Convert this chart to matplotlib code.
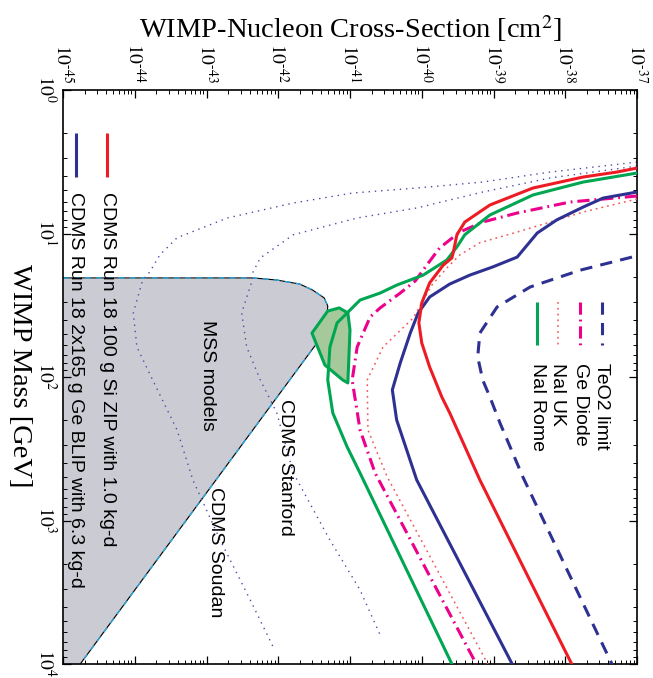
import numpy as np
import matplotlib.pyplot as plt
from matplotlib.transforms import ScaledTranslation

plt.rcParams['mathtext.fontset'] = 'stix'

# ==========================================
#  Data: WIMP mass [GeV], log10 sigma [cm^2]
# ==========================================
mass_zip = [3.50, 3.73, 4.04, 4.82, 6.33, 8.32, 10.2, 13.5, 14.8, 16.6, 22.1, 30.5,
            42.0, 57.9, 85.2, 138, 178, 522, 2399, 10000]
lsig_zip = [-37.00, -37.28, -37.75, -38.45, -39.05, -39.40, -39.51, -39.56, -39.58, -39.70,
            -39.89, -40.00, -40.04, -40.00, -39.89, -39.72, -39.61, -39.19, -38.53, -37.91]

mass_blip = [5.14, 5.66, 6.54, 8.05, 9.92, 14.6, 17.1, 19.5, 22.5, 27.7, 35.8, 49.4,
             79.9, 123, 199, 522, 10000]
lsig_blip = [-37.00, -37.47, -37.75, -38.12, -38.39, -38.67, -39.01, -39.33, -39.61, -39.89,
             -40.05, -40.16, -40.30, -40.41, -40.35, -40.07, -38.74]

mass_rome = [3.79, 4.38, 5.39, 7.43, 10.2, 12.4, 15.3, 19.5, 22.9, 26.0, 29.1, 35.8,
             42.0, 61.8, 105, 178, 307, 467, 10000]
lsig_rome = [-37.00, -37.75, -38.45, -39.05, -39.40, -39.51, -39.65, -39.98, -40.35, -40.58,
             -40.86, -41.04, -41.18, -41.28, -41.31, -41.24, -41.04, -40.86, -39.58]

mass_ukna = [5.75, 7.08, 8.32, 9.77, 11.6, 14.1, 17.4, 22.9, 38.8, 61.8, 105, 234, 498, 10000]
lsig_ukna = [-37.00, -37.75, -38.21, -38.67, -39.19, -39.47, -39.65, -39.86, -40.12, -40.54,
             -40.76, -40.75, -40.48, -39.08]

mass_gedi = [5.48, 6.03, 7.20, 8.32, 9.77, 12.6, 16.6, 21.4, 26.0, 33.0, 38.2, 61.8,
             105, 234, 467, 10000]
lsig_gedi = [-37.00, -37.93, -38.67, -39.15, -39.47, -39.75, -39.93, -40.09, -40.30, -40.58,
             -40.72, -40.90, -40.97, -40.86, -40.65, -39.24]

mass_teo2 = [14.6, 18.0, 23.6, 32.5, 49.4, 72.6, 105, 138, 209, 498, 10000]
lsig_teo2 = [-37.07, -37.79, -38.49, -38.95, -39.19, -39.22, -39.15, -39.05, -38.91, -38.59, -37.35]

mass_soudan = [3.18, 3.73, 4.38, 4.82, 5.22, 6.13, 7.80, 10.7, 14.1, 18.5, 21.1, 35.8, 61.8,
               105, 234, 522, 1368, 3582, 7985]
lsig_soudan = [-37.00, -38.21, -39.15, -40.07, -40.96, -41.79, -42.71, -43.41, -43.65, -43.79,
               -43.89, -44.02, -43.97, -43.75, -43.41, -43.19, -42.81, -42.39, -42.05]

mass_stanford = [3.39, 4.10, 5.14, 6.64, 7.80, 10.2, 14.8, 18.5, 21.8, 35.8, 61.8, 105,
                 178, 467, 1368, 3048, 6281]
lsig_stanford = [-37.00, -38.21, -39.15, -40.07, -40.90, -41.79, -42.25, -42.35, -42.37, -42.51,
                 -42.44, -42.25, -42.02, -41.79, -41.28, -40.86, -40.58]

mass_mssm = [20.4, 20.4, 21.1, 22.5, 24.8, 28.1, 32.0, 37.0, 57.9, 10000]
lsig_mssm = [-45.0, -42.35, -42.02, -41.70, -41.52, -41.36, -41.31, -41.32, -41.46, -44.76]

mass_dama = [49.4, 34.7, 33.0, 35.8, 47.0, 110, 105, 82.5]
lsig_dama = [-41.53, -41.31, -41.15, -41.03, -41.00, -41.03, -41.10, -41.35]

xtick_exp = [-45, -44, -43, -42, -41, -40, -39, -38, -37]
ytick_exp = [0, 1, 2, 3, 4]

# colours
RED = '#ed1c24'
NAVY = '#2e3192'
GREEN = '#00a651'
MAGENTA = '#ec008c'
RED_DOT = '#f0595c'
NAVY_DOT = '#4a4da6'

SANS = 'Liberation Sans'
SERIF = 'Liberation Serif'


def sig(lst):
    return 10.0 ** np.array(lst)


def pow_label(e):
    # short hyphen like the original instead of a long minus
    sign = '\u2010' if e < 0 else ''
    return r'$10^{%s%d}$' % (sign, abs(e))


# ==========================================
#  Figure / axes
# ==========================================
fig = plt.figure(figsize=(6.53, 6.78), dpi=100)
ax = fig.add_axes([63 / 653, 1 - 664 / 678, 574 / 653, 574 / 678])
ax.set_xscale('log')
ax.set_yscale('log')
ax.set_xlim(1e-45, 1e-37)
ax.set_ylim(1e4, 1e0)

# MSSM region
ax.fill_betweenx(mass_mssm[1:], 1e-45, sig(lsig_mssm[1:]), color='#cbccd3', lw=0, zorder=1)
ax.plot(sig(lsig_mssm), mass_mssm, color='black', lw=0.8, zorder=1.5)
ax.plot(sig(lsig_mssm), mass_mssm, color='#29abe2', lw=1.0, ls=(0, (4, 4)), zorder=1.6)

# projected sensitivities
dot_style = dict(color=NAVY_DOT, lw=1.0, ls=(0, (1.0, 3.5)), zorder=2)
ax.plot(sig(lsig_soudan), mass_soudan, **dot_style)
ax.plot(sig(lsig_stanford), mass_stanford, **dot_style)

# DAMA region
ax.fill(sig(lsig_dama), mass_dama, facecolor='#a6c99b', edgecolor=GREEN, lw=2.2,
        joinstyle='round', zorder=3)

# limits
ax.plot(sig(lsig_teo2), mass_teo2, color=NAVY, lw=2.2, ls=(0, (4, 2.7)), zorder=4)
ax.plot(sig(lsig_ukna), mass_ukna, color=RED_DOT, lw=1.1, ls=(0, (1.2, 2.6)), zorder=4)
ax.plot(sig(lsig_gedi), mass_gedi, color=MAGENTA, lw=2.2, ls=(0, (4, 1.6, 0.6, 1.6)), zorder=4)
ax.plot(sig(lsig_rome), mass_rome, color=GREEN, lw=2.2, zorder=4)
ax.plot(sig(lsig_blip), mass_blip, color=NAVY, lw=2.2, zorder=5)
ax.plot(sig(lsig_zip), mass_zip, color=RED, lw=2.2, zorder=6)

# region labels
lab = dict(transform=ax.transAxes, rotation=-90, ha='center', va='center',
           fontsize=14, family=SANS, zorder=3)
ax.text(0.251, 0.503, 'MSS models', **lab)
ax.text(0.387, 0.343, 'CDMS Stanford', **lab)
ax.text(0.265, 0.195, 'CDMS Soudan', **lab)


# rotated legends
def legend_entry(x, y0, y1, ytxt, label, **style):
    ax.plot([x, x], [y0, y1], transform=ax.transAxes, solid_capstyle='butt', **style)
    ax.text(x, ytxt, label, transform=ax.transAxes, rotation=-90, ha='center', va='top',
            fontsize=14, family=SANS)


legend_entry(0.0767, 0.925, 0.848, 0.822, 'CDMS Run 18 100 g Si ZIP with 1.0 kg-d', color=RED, lw=2.2)
legend_entry(0.0226, 0.925, 0.848, 0.822, 'CDMS Run 18 2x165 g Ge BLIP with 6.3 kg-d', color=NAVY, lw=2.2)
legend_entry(0.939, 0.631, 0.556, 0.524, 'TeO2 limit', color=NAVY, lw=2.2, ls=(0, (4, 2.7)))
legend_entry(0.901, 0.631, 0.556, 0.524, 'Ge Diode', color=MAGENTA, lw=2.2, ls=(0, (4, 1.6, 0.6, 1.6)))
legend_entry(0.862, 0.631, 0.556, 0.524, 'NaI UK', color=RED_DOT, lw=1.1, ls=(0, (1.2, 2.6)))
legend_entry(0.826, 0.631, 0.556, 0.524, 'NaI Rome', color=GREEN, lw=2.2)

# ticks
ax.set_xticks([10.0 ** e for e in xtick_exp])
ax.set_xticklabels([pow_label(e) for e in xtick_exp], rotation=-90, fontsize=14)
ax.set_yticks([10.0 ** e for e in ytick_exp])
ax.set_yticklabels([pow_label(e) for e in ytick_exp], rotation=-90, fontsize=14)
ax.tick_params(which='both', direction='in', top=True, bottom=True, left=True, right=True,
               labeltop=True, labelbottom=False)
ax.tick_params(which='major', length=6, width=0.9, pad=5)
ax.tick_params(axis='y', which='major', pad=4)
ax.tick_params(which='minor', length=3, width=0.7)
for s in ax.spines.values():
    s.set_linewidth(1.2)

# left labels sit a few pixels above their ticks, as in the original
shift_up = ScaledTranslation(0, 4 / 72, fig.dpi_scale_trans)
for lbl in ax.get_yticklabels():
    lbl.set_transform(lbl.get_transform() + shift_up)

fig.text(351 / 653, 1 - 29 / 678, r'WIMP-Nucleon Cross-Section [cm$^2$]', ha='center', va='center',
         fontsize=20.5, family=SERIF)
fig.text(19 / 653, 1 - 376 / 678, 'WIMP Mass [GeV]', rotation=-90, ha='center', va='center',
         fontsize=20.5, family=SERIF)

fig.savefig('out.png', dpi=100)
